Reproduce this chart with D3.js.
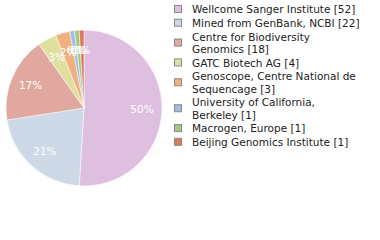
<!DOCTYPE html>
<html><head><meta charset="utf-8">
<script src="https://cdn.jsdelivr.net/npm/d3@7"></script>
<style>body{margin:0;background:#fff;}svg{display:block;}</style>
</head><body>
<svg id="c" width="380" height="240"></svg>
<script>
const categories = ["Wellcome Sanger Institute","Mined from GenBank, NCBI","Centre for Biodiversity Genomics","GATC Biotech AG","Genoscope, Centre National de Sequencage","University of California, Berkeley","Macrogen, Europe","Beijing Genomics Institute"];
const counts = [52,22,18,4,3,1,1,1];
const colors = ["#dfbfe0","#cdd9e6","#e0a89f","#dfe0a0","#f0b07f","#a0bfe0","#a3c983","#e0785f"];

const svg = d3.select("#c");
const cx = 84, cy = 108, r = 78, lr = 58;
const total = d3.sum(counts);
const data = counts.map((v,i)=>({name:categories[i], value:v, color:colors[i]}));
const pie = d3.pie().value(d=>d.value).sort(null).startAngle(0).endAngle(2*Math.PI);
const arcs = pie(data);
const arc = d3.arc().innerRadius(0).outerRadius(r);
const labelArc = d3.arc().innerRadius(lr).outerRadius(lr);
const g = svg.append("g").attr("transform",`translate(${cx},${cy})`);
g.selectAll("path").data(arcs).join("path")
  .attr("d",arc).attr("fill",d=>d.data.color)
  .attr("stroke","#fff").attr("stroke-width",0.5);
g.selectAll("text").data(arcs).join("text")
  .attr("transform",d=>`translate(${labelArc.centroid(d)})`)
  .attr("text-anchor","middle").attr("dy","0.35em")
  .attr("font-family","DejaVu Sans").attr("font-size",10.5)
  .attr("fill","#fff")
  .text(d=>Math.floor(d.data.value/total*100)+"%");

// legend
const lx = 174, tx = 192, lineH = 12.3, gap = 1.4, maxW = 168;
const lg = svg.append("g").attr("font-family","DejaVu Sans").attr("font-size",10.5).attr("fill","#222");
let y = 9.5;
data.forEach(d=>{
  const full = d.name + " [" + d.value + "]";
  const words = full.split(" ");
  const t = lg.append("text").attr("x",tx);
  const lines = [];
  let cur = [];
  const probe = lg.append("text").attr("x",-1000);
  words.forEach(w=>{
    const test = cur.concat([w]).join(" ");
    probe.text(test);
    if (probe.node().getComputedTextLength() > maxW && cur.length){ lines.push(cur.join(" ")); cur=[w]; }
    else cur.push(w);
  });
  lines.push(cur.join(" "));
  probe.remove();
  lines.forEach((ln,i)=>{
    t.append("tspan").attr("x",tx).attr("y",y+i*lineH).attr("dy","0.35em").text(ln);
  });
  const mid = y + (lines.length-1)*lineH/2;
  lg.append("rect").attr("x",lx+0.5).attr("y",mid-3.5-0.5).attr("width",7).attr("height",7)
    .attr("fill",d.color).attr("stroke","#888").attr("stroke-width",1);
  y += lines.length*lineH + gap;
});
</script>
</body></html>
